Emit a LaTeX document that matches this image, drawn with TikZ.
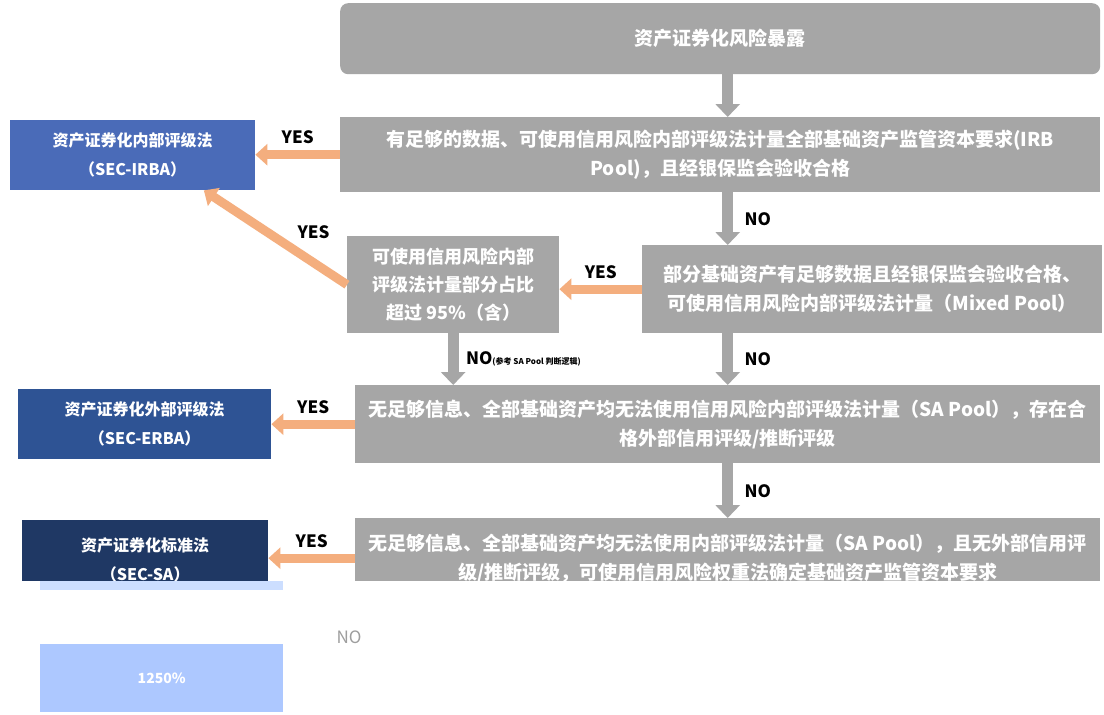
\documentclass[tikz,border=0pt]{standalone}
\usepackage{fontspec}
\setmainfont{Noto Sans CJK SC}
\usetikzlibrary{arrows.meta,positioning,calc}
\definecolor{boxgray}{HTML}{A6A6A6}
\definecolor{arrowor}{HTML}{F4AE7E}
\definecolor{irbablue}{HTML}{4A6BB8}
\definecolor{erbablue}{HTML}{2E5394}
\definecolor{sablue}{HTML}{1F3864}
\definecolor{paleblue}{HTML}{CCDEFF}
\definecolor{riskblue}{HTML}{ADC8FF}

\begin{document}
\begin{tikzpicture}[
        x=1pt,y=-1pt,
        graybox/.style={rectangle,fill=boxgray,text=white,align=center,inner sep=0pt,font=\bfseries\fontsize{19}{29}\selectfont},
        bluebox/.style={rectangle,text=white,align=center,inner sep=0pt,font=\bfseries\fontsize{16}{29}\selectfont},
        grayarrow/.style={draw=boxgray,line width=11pt,-{Triangle[width=24pt,length=13pt]}},
        orangearrow/.style={draw=arrowor,line width=9pt,-{Triangle[width=21pt,length=12pt]}},
        lab/.style={font=\bfseries\fontsize{17}{20}\selectfont,text=black}
    ]
        \fill[white] (0,0) rectangle (1104,715);
        \useasboundingbox (0,0) rectangle (1104,715);

        % decision column
        \node[graybox,rounded corners=8pt,minimum width=760,minimum height=71,anchor=north west] (expo) at (340,3) {资产证券化风险暴露};
        \node[graybox,minimum width=760,minimum height=75,anchor=north west] (irb) at (340,117) {有足够的数据、可使用信用风险内部评级法计量全部基础资产监管资本要求(IRB\\Pool)，且经银保监会验收合格};
        \node[graybox,minimum width=460,minimum height=88,anchor=north west] (mixed) at (642,245) {部分基础资产有足够数据且经银保监会验收合格、\\可使用信用风险内部评级法计量（Mixed Pool）};
        \node[graybox,minimum width=212,minimum height=97,anchor=north west,font=\bfseries\fontsize{18}{28}\selectfont] (share) at (347,236) {可使用信用风险内部\\评级法计量部分占比\\超过 95\%（含）};
        \node[graybox,minimum width=745,minimum height=78,anchor=north west] (sapool) at (355,385) {无足够信息、全部基础资产均无法使用信用风险内部评级法计量（SA Pool），存在合\\格外部信用评级/推断评级};
        \node[graybox,minimum width=745,minimum height=80,anchor=north west] (sarw) at (355,518) {无足够信息、全部基础资产均无法使用内部评级法计量（SA Pool），且无外部信用评\\级/推断评级，可使用信用风险权重法确定基础资产监管资本要求};

        % approaches
        \node[bluebox,fill=irbablue,minimum width=245,minimum height=70,anchor=north west] (irba) at (10,120) {资产证券化内部评级法\\（SEC-IRBA）};
        \node[bluebox,fill=erbablue,minimum width=253,minimum height=70,anchor=north west] (erba) at (18,389) {资产证券化外部评级法\\（SEC-ERBA）};
        \node[bluebox,fill=sablue,minimum width=246,minimum height=80,anchor=north west] (secsa) at (22,520) {资产证券化标准法\\（SEC-SA）};

        \draw[grayarrow] (expo.south -| sapool.north) -- (irb.north -| sapool.north);
        \draw[grayarrow] (irb.south -| sapool.north) -- node[lab,right=8pt]{NO} (mixed.north -| sapool.north);
        \draw[grayarrow] (mixed.south -| sapool.north) -- node[lab,right=8pt]{NO} (sapool.north);
        \draw[grayarrow] (share.south) -- node[lab,right=4pt]{NO{\fontsize{8}{10}\selectfont(参考 SA Pool 判断逻辑)}} (share.south |- sapool.north);
        \draw[grayarrow] (sapool.south) -- node[lab,right=8pt]{NO} (sarw.north);

        \draw[orangearrow] (irb.west) -- node[lab,above=3pt]{YES} (irb.west -| irba.east);
        \draw[orangearrow] (share.west) -- node[lab,pos=0.4,above right=0pt]{YES} ($(irba.south east)!0.21!(irba.south west)$);
        \draw[orangearrow] (mixed.west) -- node[lab,above=3pt]{YES} (mixed.west -| share.east);
        \draw[orangearrow] (sapool.west) -- node[lab,above=3pt]{YES} (sapool.west -| erba.east);
        \draw[orangearrow] (sarw.west) -- node[lab,above=3pt]{YES} (sarw.west -| secsa.east);

        % faded lower part
        \fill[white] (0,581) rectangle (1104,715);
        \node[fill=paleblue,minimum width=243,minimum height=9,inner sep=0pt,anchor=north west] (strip) at (40,581) {};
        \node[fill=riskblue,minimum width=243,minimum height=68,inner sep=0pt,anchor=north west,text=white,font=\bfseries\fontsize{14}{16}\selectfont] (rw) at (40,644) {1250\%};
        \node[text=black!38,font=\fontsize{17}{20}\selectfont] (faded) at (349,637) {NO};
    \end{tikzpicture}
\end{document}
